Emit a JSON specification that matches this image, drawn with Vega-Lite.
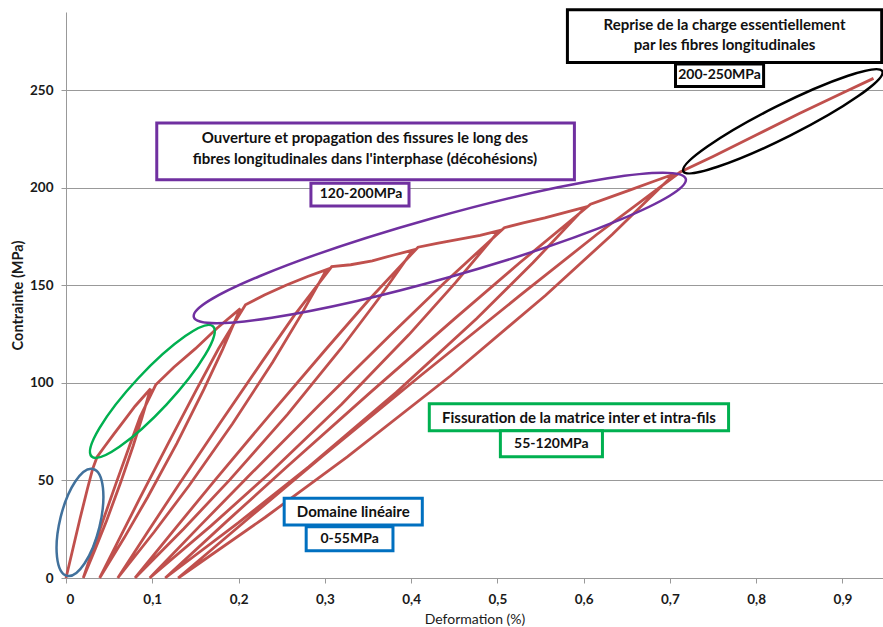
{
  "$schema": "https://vega.github.io/schema/vega-lite/v6.json",
  "width": 817,
  "height": 566,
  "autosize": {"type": "none"},
  "padding": {"left": 66, "top": 12, "right": 0, "bottom": 49},
  "background": "white",
  "config": {"view": {"stroke": null}, "font": "Lato"},
  "layer": [
    {
      "data": {"values": [
        {"i":1,"x":0,"y":0},{"i":2,"x":0.008,"y":15},{"i":3,"x":0.016,"y":30},{"i":4,"x":0.025,"y":46},{"i":5,"x":0.031,"y":56},{"i":6,"x":0.036,"y":62},{"i":7,"x":0.045,"y":67.5},{"i":8,"x":0.055,"y":73.5},{"i":9,"x":0.068,"y":81},{"i":10,"x":0.08,"y":88},{"i":11,"x":0.09,"y":93},{"i":12,"x":0.098,"y":97},
        {"i":13,"x":0.0883,"y":82.5},{"i":14,"x":0.078,"y":67.9},{"i":15,"x":0.063,"y":48.5},{"i":16,"x":0.0468,"y":29.1},{"i":17,"x":0.0337,"y":14.6},{"i":18,"x":0.020,"y":0},
        {"i":19,"x":0.0312,"y":14.6},{"i":20,"x":0.0426,"y":29.1},{"i":21,"x":0.058,"y":48.5},{"i":22,"x":0.0738,"y":67.9},{"i":23,"x":0.0858,"y":82.5},{"i":24,"x":0.104,"y":99},
        {"i":25,"x":0.125,"y":108},{"i":26,"x":0.15,"y":117.5},{"i":27,"x":0.175,"y":128},{"i":28,"x":0.202,"y":138},
        {"i":29,"x":0.1817,"y":117.3},{"i":30,"x":0.1598,"y":96.6},{"i":31,"x":0.1285,"y":69},{"i":32,"x":0.0946,"y":41.4},{"i":33,"x":0.0676,"y":20.7},{"i":34,"x":0.039,"y":0},
        {"i":35,"x":0.0625,"y":20.7},{"i":36,"x":0.0862,"y":41.4},{"i":37,"x":0.1185,"y":69},{"i":38,"x":0.1514,"y":96.6},{"i":39,"x":0.1766,"y":117.3},{"i":40,"x":0.208,"y":140},
        {"i":41,"x":0.23,"y":145},{"i":42,"x":0.255,"y":150},{"i":43,"x":0.28,"y":154.5},{"i":44,"x":0.302,"y":158},
        {"i":45,"x":0.2718,"y":134.3},{"i":46,"x":0.2395,"y":110.6},{"i":47,"x":0.193,"y":79},{"i":48,"x":0.1427,"y":47.4},{"i":49,"x":0.1024,"y":23.7},{"i":50,"x":0.060,"y":0},
        {"i":51,"x":0.0948,"y":23.7},{"i":52,"x":0.1301,"y":47.4},{"i":53,"x":0.178,"y":79},{"i":54,"x":0.2269,"y":110.6},{"i":55,"x":0.2642,"y":134.3},{"i":56,"x":0.308,"y":159.5},
        {"i":57,"x":0.33,"y":160.5},{"i":58,"x":0.355,"y":162.5},{"i":59,"x":0.38,"y":165.5},{"i":60,"x":0.402,"y":168},
        {"i":61,"x":0.3619,"y":142.8},{"i":62,"x":0.3188,"y":117.6},{"i":63,"x":0.257,"y":84},{"i":64,"x":0.19,"y":50.4},{"i":65,"x":0.1365,"y":25.2},{"i":66,"x":0.080,"y":0},
        {"i":67,"x":0.1263,"y":25.2},{"i":68,"x":0.1732,"y":50.4},{"i":69,"x":0.237,"y":84},{"i":70,"x":0.302,"y":117.6},{"i":71,"x":0.3517,"y":142.8},{"i":72,"x":0.408,"y":169.5},
        {"i":73,"x":0.43,"y":171.5},{"i":74,"x":0.455,"y":173.5},{"i":75,"x":0.48,"y":175.5},{"i":76,"x":0.502,"y":178},
        {"i":77,"x":0.4515,"y":151.3},{"i":78,"x":0.3973,"y":124.6},{"i":79,"x":0.3195,"y":89},{"i":80,"x":0.2353,"y":53.4},{"i":81,"x":0.168,"y":26.7},{"i":82,"x":0.097,"y":0},
        {"i":83,"x":0.1552,"y":26.7},{"i":84,"x":0.2143,"y":53.4},{"i":85,"x":0.2945,"y":89},{"i":86,"x":0.3763,"y":124.6},{"i":87,"x":0.4387,"y":151.3},{"i":88,"x":0.508,"y":179.5},
        {"i":89,"x":0.53,"y":182},{"i":90,"x":0.555,"y":184.5},{"i":91,"x":0.58,"y":187.5},{"i":92,"x":0.602,"y":190},
        {"i":93,"x":0.5412,"y":161.5},{"i":94,"x":0.4761,"y":133},{"i":95,"x":0.3825,"y":95},{"i":96,"x":0.2813,"y":57},{"i":97,"x":0.2003,"y":28.5},{"i":98,"x":0.115,"y":0},
        {"i":99,"x":0.185,"y":28.5},{"i":100,"x":0.2561,"y":57},{"i":101,"x":0.3525,"y":95},{"i":102,"x":0.4509,"y":133},{"i":103,"x":0.5259,"y":161.5},{"i":104,"x":0.608,"y":191.5},
        {"i":105,"x":0.63,"y":195},{"i":106,"x":0.655,"y":199},{"i":107,"x":0.68,"y":203},{"i":108,"x":0.705,"y":207},
        {"i":109,"x":0.6331,"y":176},{"i":110,"x":0.556,"y":144.9},{"i":111,"x":0.4455,"y":103.5},{"i":112,"x":0.326,"y":62.1},{"i":113,"x":0.2306,"y":31},{"i":114,"x":0.130,"y":0},
        {"i":115,"x":0.2127,"y":31},{"i":116,"x":0.2966,"y":62.1},{"i":117,"x":0.4105,"y":103.5},{"i":118,"x":0.5266,"y":144.9},{"i":119,"x":0.6152,"y":176},{"i":120,"x":0.712,"y":208},
        {"i":121,"x":0.75,"y":216},{"i":122,"x":0.8,"y":227},{"i":123,"x":0.85,"y":238},{"i":124,"x":0.9,"y":248.5},{"i":125,"x":0.936,"y":256}
      ]},
      "mark": {"type": "line", "color": "#c0504d", "strokeWidth": 2.8},
      "encoding": {
        "order": {"field": "i", "type": "quantitative"},
        "x": {
          "field": "x", "type": "quantitative",
          "scale": {"domain": [0, 0.947], "nice": false, "zero": false},
          "axis": {
            "title": "Deformation (%)",
            "values": [0, 0.1, 0.2, 0.3, 0.4, 0.5, 0.6, 0.7, 0.8, 0.9],
            "labelExpr": "datum.value == 0 ? '0' : replace(format(datum.value, '.1f'), '.', ',')",
            "grid": false,
            "domainColor": "#999", "tickColor": "#999", "tickSize": 5,
            "labelFont": "Lato", "labelFontWeight": "bold", "labelFontSize": 13.5, "labelColor": "#1a1a1a", "labelPadding": 9,
            "titleFont": "Lato", "titleFontWeight": "normal", "titleFontSize": 14, "titleColor": "#1a1a1a", "titlePadding": 7
          }
        },
        "y": {
          "field": "y", "type": "quantitative",
          "scale": {"domain": [0, 290], "nice": false, "zero": true},
          "axis": {
            "title": "Contrainte (MPa)",
            "values": [0, 50, 100, 150, 200, 250],
            "grid": true, "gridColor": "#999", "gridWidth": 1,
            "domainColor": "#999", "tickColor": "#999", "tickSize": 5,
            "labelFont": "Lato", "labelFontWeight": "bold", "labelFontSize": 13.5, "labelColor": "#1a1a1a", "labelPadding": 8,
            "titleFont": "Lato", "titleFontWeight": "bold", "titleFontSize": 14.5, "titleColor": "#1a1a1a", "titlePadding": 4
          }
        }
      }
    },
    {
      "data": {"values": [{"x": 0.0162, "y": 28.5}]},
      "mark": {"type": "point", "filled": false, "opacity": 1, "stroke": "#41719c", "strokeWidth": 2.5, "size": 12100, "angle": 283.7,
        "shape": "M 1 0 C 1 0.201 0.5523 0.364 0 0.364 C -0.5523 0.364 -1 0.201 -1 0 C -1 -0.201 -0.5523 -0.364 0 -0.364 C 0.5523 -0.364 1 -0.201 1 0 Z"},
      "encoding": {"x": {"field": "x", "type": "quantitative"}, "y": {"field": "y", "type": "quantitative"}}
    },
    {
      "data": {"values": [{"x": 0.1001, "y": 95.6}]},
      "mark": {"type": "point", "filled": false, "opacity": 1, "stroke": "#00b050", "strokeWidth": 2.5, "size": 31684, "angle": 313,
        "shape": "M 1 0 C 1 0.1198 0.5523 0.217 0 0.217 C -0.5523 0.217 -1 0.1198 -1 0 C -1 -0.1198 -0.5523 -0.217 0 -0.217 C 0.5523 -0.217 1 -0.1198 1 0 Z"},
      "encoding": {"x": {"field": "x", "type": "quantitative"}, "y": {"field": "y", "type": "quantitative"}}
    },
    {
      "data": {"values": [{"x": 0.4333, "y": 169.1}]},
      "mark": {"type": "point", "filled": false, "opacity": 1, "stroke": "#7030a0", "strokeWidth": 2.5, "size": 261121, "angle": 344.3,
        "shape": "M 1 0 C 1 0.0663 0.5523 0.12 0 0.12 C -0.5523 0.12 -1 0.0663 -1 0 C -1 -0.0663 -0.5523 -0.12 0 -0.12 C 0.5523 -0.12 1 -0.0663 1 0 Z"},
      "encoding": {"x": {"field": "x", "type": "quantitative"}, "y": {"field": "y", "type": "quantitative"}}
    },
    {
      "data": {"values": [{"x": 0.8309, "y": 234.0}]},
      "mark": {"type": "point", "filled": false, "opacity": 1, "stroke": "#000000", "strokeWidth": 2.5, "size": 49595, "angle": 333.3,
        "shape": "M 1 0 C 1 0.0795 0.5523 0.144 0 0.144 C -0.5523 0.144 -1 0.0795 -1 0 C -1 -0.0795 -0.5523 -0.144 0 -0.144 C 0.5523 -0.144 1 -0.0795 1 0 Z"},
      "encoding": {"x": {"field": "x", "type": "quantitative"}, "y": {"field": "y", "type": "quantitative"}}
    },
    {
      "data": {"values": [
        {"g": "black", "x": 0.5812, "x2": 0.9455, "y": 291.1, "y2": 264.1},
        {"g": "black", "x": 0.7065, "x2": 0.8086, "y": 263.3, "y2": 251.8},
        {"g": "purple", "x": 0.1052, "x2": 0.5893, "y": 233.1, "y2": 204.0},
        {"g": "purple", "x": 0.2839, "x2": 0.3976, "y": 202.3, "y2": 190.6},
        {"g": "green", "x": 0.4211, "x2": 0.768, "y": 89.3, "y2": 75.5},
        {"g": "green", "x": 0.5035, "x2": 0.6218, "y": 75.5, "y2": 62.1},
        {"g": "blue", "x": 0.2529, "x2": 0.413, "y": 40.9, "y2": 27.1},
        {"g": "blue", "x": 0.2784, "x2": 0.379, "y": 26.3, "y2": 13.9}
      ]},
      "mark": {"type": "rect", "fill": "white", "strokeWidth": 3},
      "encoding": {
        "x": {"field": "x", "type": "quantitative"},
        "x2": {"field": "x2"},
        "y": {"field": "y", "type": "quantitative"},
        "y2": {"field": "y2"},
        "stroke": {"field": "g", "type": "nominal", "legend": null,
          "scale": {"domain": ["black", "purple", "green", "blue"], "range": ["#000000", "#7030a0", "#00b050", "#0070c0"]}}
      }
    },
    {
      "data": {"values": [
        {"x": 0.7633, "y": 283.4, "t": "Reprise de la charge essentiellement"},
        {"x": 0.7633, "y": 273.1, "t": "par les fibres longitudinales"},
        {"x": 0.3465, "y": 225.2, "t": "Ouverture et propagation des fissures le long des"},
        {"x": 0.3465, "y": 214.6, "t": "fibres longitudinales dans l'interphase (décohésions)"},
        {"x": 0.5946, "y": 82.1, "t": "Fissuration de la matrice inter et intra-fils"},
        {"x": 0.333, "y": 33.9, "t": "Domaine linéaire"}
      ]},
      "mark": {"type": "text", "font": "Lato", "fontWeight": "bold", "fontSize": 15, "color": "#111", "align": "center", "baseline": "middle"},
      "encoding": {
        "x": {"field": "x", "type": "quantitative"},
        "y": {"field": "y", "type": "quantitative"},
        "text": {"field": "t"}
      }
    },
    {
      "data": {"values": [
        {"x": 0.7575, "y": 257.7, "t": "200-250MPa"},
        {"x": 0.342, "y": 196.6, "t": "120-200MPa"},
        {"x": 0.5626, "y": 68.8, "t": "55-120MPa"},
        {"x": 0.3287, "y": 20.0, "t": "0-55MPa"}
      ]},
      "mark": {"type": "text", "font": "Lato", "fontWeight": "bold", "fontSize": 14, "color": "#111", "align": "center", "baseline": "middle"},
      "encoding": {
        "x": {"field": "x", "type": "quantitative"},
        "y": {"field": "y", "type": "quantitative"},
        "text": {"field": "t"}
      }
    }
  ]
}
